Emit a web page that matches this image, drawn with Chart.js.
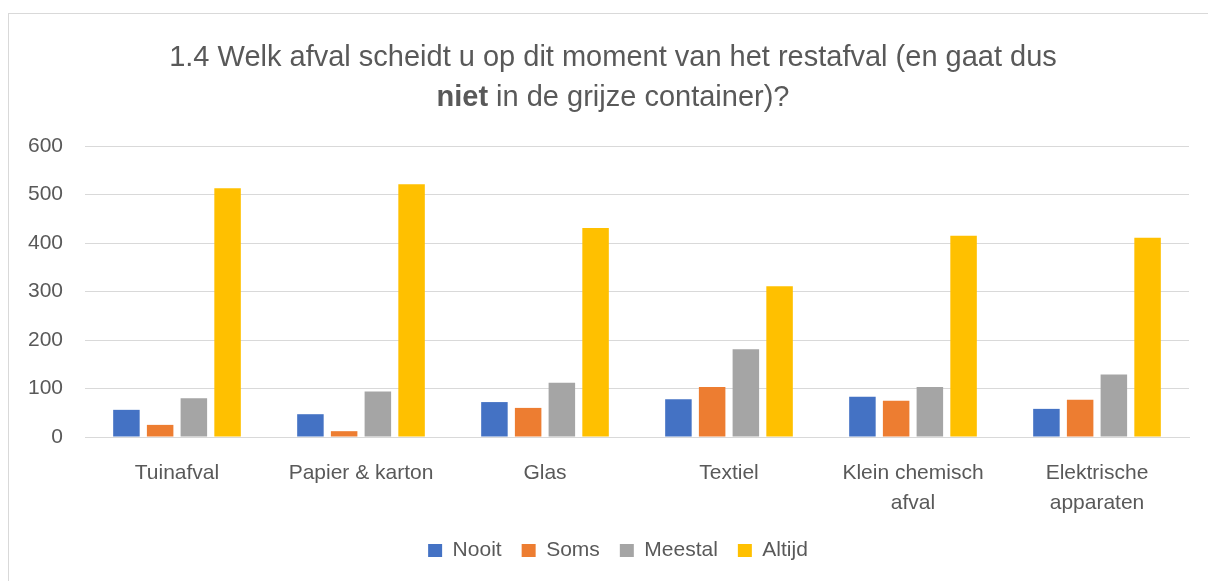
<!DOCTYPE html>
<html>
<head>
<meta charset="utf-8">
<script src="https://cdn.jsdelivr.net/npm/chart.js@4"></script>
<style>
  body { margin: 0; background: #fff; }
  #box {
    position: absolute; left: 8px; top: 13px;
    width: 1199px; height: 567px;
    border-left: 1px solid #d9d9d9; border-top: 1px solid #d9d9d9;
  }
</style>
</head>
<body>
<div id="box"><canvas id="chart"></canvas></div>
<script>
const categories = ["Tuinafval", "Papier & karton", "Glas", "Textiel", ["Klein chemisch", "afval"], ["Elektrische", "apparaten"]];
const nooit   = [56, 47, 72, 78, 83, 58];
const soms    = [25, 12, 60, 103, 75, 77];
const meestal = [80, 94, 112, 181, 103, 129];
const altijd  = [513, 521, 431, 311, 415, 411];
const yTicks  = [0, 100, 200, 300, 400, 500, 600];

const TEXT = "#595959";
const FONT = "'Liberation Sans', Arial, sans-serif";

// title with one bold word, drawn by hand
const titlePlugin = {
  id: "splitTitle",
  afterDraw: function (chart) {
    let ctx = chart.ctx;
    let cx = 604;
    let size = "29px ";
    ctx.save();
    ctx.fillStyle = TEXT;
    ctx.textBaseline = "middle";
    ctx.textAlign = "center";
    ctx.font = size + FONT;
    ctx.fillText("1.4 Welk afval scheidt u op dit moment van het restafval (en gaat dus", cx, 44);

    let bold = "niet";
    let rest = " in de grijze container)?";
    ctx.font = "bold " + size + FONT;
    let w1 = ctx.measureText(bold).width;
    ctx.font = size + FONT;
    let w2 = ctx.measureText(rest).width;
    let x = cx - (w1 + w2) / 2;
    ctx.textAlign = "left";
    ctx.font = "bold " + size + FONT;
    ctx.fillText(bold, x, 84);
    ctx.font = size + FONT;
    ctx.fillText(rest, x + w1, 84);
    ctx.restore();
  }
};

// legend sits a little right of the canvas centre in the original
const legendShift = {
  id: "legendShift",
  afterLayout: function (chart) {
    if (chart.legend) {
      chart.legend.left += 19;
      chart.legend.right += 19;
    }
  }
};

new Chart(document.getElementById("chart"), {
  type: "bar",
  data: {
    labels: categories,
    datasets: [
      { label: "Nooit", data: nooit, backgroundColor: "#4472C4" },
      { label: "Soms", data: soms, backgroundColor: "#ED7D31" },
      { label: "Meestal", data: meestal, backgroundColor: "#A5A5A5" },
      { label: "Altijd", data: altijd, backgroundColor: "#FFC000" }
    ]
  },
  options: {
    responsive: true,
    maintainAspectRatio: false,
    animation: false,
    events: [],
    categoryPercentage: 0.733,
    barPercentage: 0.786,
    layout: { padding: { top: 132, right: 19, left: 0, bottom: 10 } },
    scales: {
      x: {
        grid: { display: false },
        border: { color: "#d9d9d9", width: 1 },
        ticks: { color: TEXT, font: { family: FONT, size: 21, lineHeight: 1.4 }, padding: 14, maxRotation: 0, autoSkip: false },
        afterFit: function (scale) { scale.height = 83; }
      },
      y: {
        min: 0,
        max: 600,
        afterBuildTicks: function (scale) {
          scale.ticks = yTicks.map(function (v) { return { value: v }; });
        },
        grid: { color: "#d9d9d9", lineWidth: 1, drawTicks: false },
        border: { display: false },
        ticks: { color: TEXT, font: { family: FONT, size: 21 }, padding: 22 },
        afterFit: function (scale) { scale.width = 76; }
      }
    },
    plugins: {
      legend: {
        position: "bottom",
        labels: {
          color: TEXT,
          font: { family: FONT, size: 21 },
          boxWidth: 14,
          boxHeight: 13,
          padding: 20
        }
      },
      tooltip: { enabled: false }
    }
  },
  plugins: [titlePlugin, legendShift]
});
</script>
</body>
</html>
